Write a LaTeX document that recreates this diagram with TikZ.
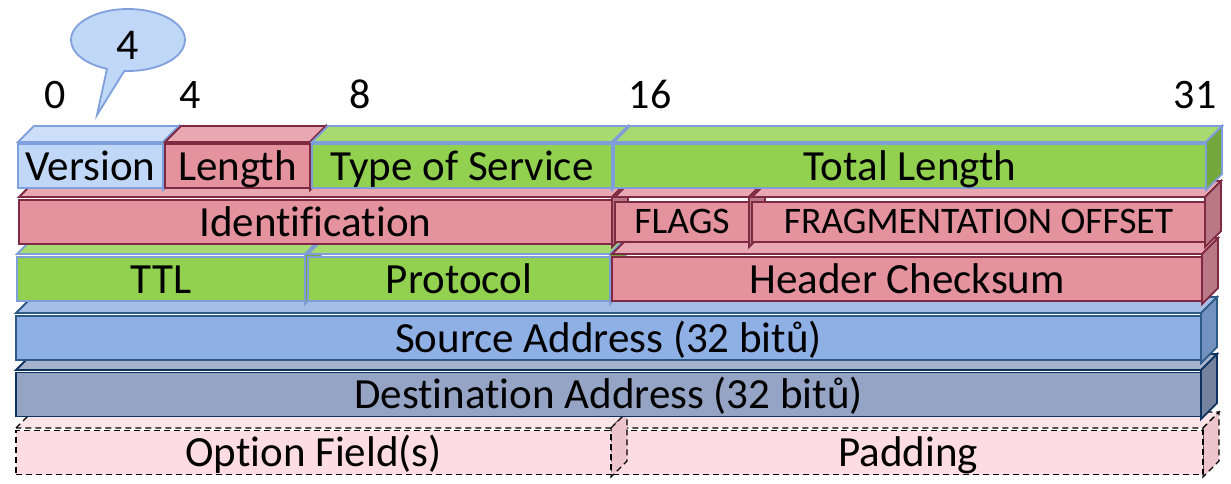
\documentclass[tikz,border=0pt]{standalone}
\usepackage{fontspec}
\setmainfont{Carlito}[Ligatures={NoCommon}]
\usetikzlibrary{fit,shapes.callouts}

% face colours of the header fields
\definecolor{verFront}{HTML}{C0D7F7}
\definecolor{verTop}{HTML}{CDDEF8}
\definecolor{verSide}{HTML}{9DB3D3}
\definecolor{verLine}{HTML}{7EA0DC}
\definecolor{grnFront}{HTML}{92D050}
\definecolor{grnTop}{HTML}{A8DA72}
\definecolor{grnSide}{HTML}{74A83C}
\definecolor{grnLine}{HTML}{7F9ED8}
\definecolor{redFront}{HTML}{E4929E}
\definecolor{redTop}{HTML}{E9A7B1}
\definecolor{redSide}{HTML}{B87884}
\definecolor{redLine}{HTML}{7E2A42}
\definecolor{srcFront}{HTML}{8FB0E5}
\definecolor{srcTop}{HTML}{A6BEE6}
\definecolor{srcSide}{HTML}{7392C0}
\definecolor{srcLine}{HTML}{2E5A87}
\definecolor{dstFront}{HTML}{95A3C5}
\definecolor{dstTop}{HTML}{A6B1CB}
\definecolor{dstSide}{HTML}{76839F}
\definecolor{dstLine}{HTML}{0D3461}
\definecolor{optFront}{HTML}{FDDDE3}
\definecolor{optTop}{HTML}{FBE5E9}
\definecolor{optSide}{HTML}{EEC5CC}

\tikzset{
  facebase/.style={line width=1.8pt, line join=miter},
  label/.style={font=\fontsize{43}{43}\selectfont, text height=36pt, text depth=8pt, inner sep=0pt},
  small label/.style={font=\fontsize{37.5}{37.5}\selectfont, text height=31pt, text depth=9pt, inner sep=0pt},
  bitno/.style={font=\fontsize{42}{42}\selectfont, anchor=base, inner sep=0pt},
  % one colour scheme per kind of field
  ver-front/.style={facebase, fill=verFront, draw=verLine},
  ver-top/.style={facebase, fill=verTop, draw=verLine},
  ver-side/.style={facebase, fill=verSide, draw=verLine},
  grn-front/.style={facebase, fill=grnFront, draw=grnLine},
  grn-top/.style={facebase, fill=grnTop, draw=grnLine},
  grn-side/.style={facebase, fill=grnSide, draw=grnLine},
  red-front/.style={facebase, fill=redFront, draw=redLine},
  red-top/.style={facebase, fill=redTop, draw=redLine},
  red-side/.style={facebase, fill=redSide, draw=redLine},
  src-front/.style={facebase, fill=srcFront, draw=srcLine},
  src-top/.style={facebase, fill=srcTop, draw=srcLine},
  src-side/.style={facebase, fill=srcSide, draw=srcLine},
  dst-front/.style={facebase, fill=dstFront, draw=dstLine},
  dst-top/.style={facebase, fill=dstTop, draw=dstLine},
  dst-side/.style={facebase, fill=dstSide, draw=dstLine},
  optbase/.style={line width=1.3pt, dash pattern=on 6pt off 4pt, draw=black},
  opt-front/.style={optbase, fill=optFront},
  opt-top/.style={optbase, fill=optTop},
  opt-side/.style={optbase, fill=optSide},
}

% \field{name}{x1}{y1}{x2}{y2}{scheme}{label style}{text}
% draws a box with a front face from (x1,y1) to (x2,y2) and a depth of 16
\newcommand\field[8]{%
  \coordinate (#1-nw) at (#2,#3);
  \coordinate (#1-se) at (#4,#5);
  \filldraw[#6-top] (#1-nw) -- ++(16,-16) -- ({#4+16},{#3-16}) -- (#4,#3) -- cycle;
  \filldraw[#6-side] (#4,#3) -- ++(16,-16) -- ({#4+16},{#5-16}) -- (#1-se) -- cycle;
  \node[fit=(#1-nw)(#1-se), #6-front, #7] (#1) {#8};
}

\begin{document}
\begin{tikzpicture}[x=1pt, y=-1pt]
  \useasboundingbox (0,0) rectangle (1231,483);

  % options and padding (dashed)
  \field{pad}{613}{428}{1203}{477}{opt}{label}{Padding}
  \field{opt}{16}{428}{611}{477}{opt}{label}{Option Field(s)}

  % addresses
  \field{dst}{16}{370}{1201}{419}{dst}{label}{Destination Address (32 bitů)}
  \field{src}{16}{313}{1201}{363}{src}{label}{Source Address (32 bitů)}

  % third word
  \field{ttl}{17}{254}{305}{304}{grn}{label}{TTL}
  \field{proto}{308}{254}{610}{304}{grn}{label}{Protocol}
  \field{csum}{612}{254}{1202}{304}{red}{label}{Header Checksum}

  % second word
  \field{ident}{19}{197}{612}{247}{red}{label}{Identification}
  \field{flags}{615}{197}{749}{247}{red}{small label}{FLAGS}
  \field{frag}{752}{197}{1205}{247}{red}{small label}{FRAGMENTATION OFFSET}

  % first word
  \field{ver}{18}{142}{163}{190}{ver}{label}{Version}
  \field{len}{165}{142}{310}{190}{red}{label}{Length}
  \field{tos}{312}{142}{612}{190}{grn}{label}{Type of Service}
  \field{tlen}{614}{142}{1206}{190}{grn}{label}{Total Length}

  % bit positions
  \node[bitno] (b0) at (55,108) {0};
  \node[bitno] (b4) at (190,108) {4};
  \node[bitno] (b8) at (360,108) {8};
  \node[bitno] (b16) at (650,108) {16};
  \node[bitno] (b31) at (1195,108) {31};

  % value of the version field
  \coordinate (tip) at (97,115);
  \node[ellipse callout, callout absolute pointer={(tip)}, callout pointer arc=18,
        minimum width=114pt, minimum height=62pt, inner sep=0pt,
        fill=verFront, draw=verLine, line width=1.8pt,
        font=\fontsize{44}{44}\selectfont, text height=40pt, text depth=2pt]
        (val) at (128,40) {4};
\end{tikzpicture}
\end{document}
